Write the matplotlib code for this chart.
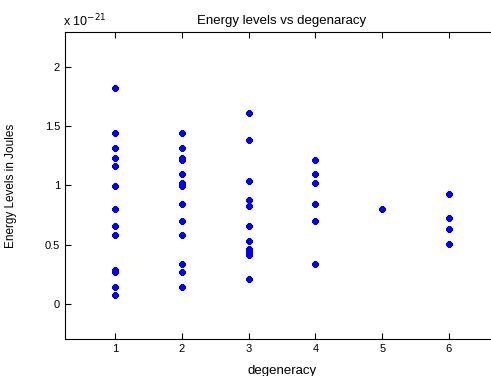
import numpy as np
import matplotlib.pyplot as plt

plt.rcParams['font.family'] = ['Liberation Sans', 'DejaVu Sans']

# energy levels (units of 1e-21 J) for each degeneracy
deg1 = [1.828, 1.441, 1.316, 1.237, 1.167, 0.994, 0.802, 0.655, 0.585, 0.288, 0.265, 0.142, 0.070]
deg2 = [1.441, 1.316, 1.235, 1.212, 1.096, 1.023, 0.997, 0.847, 0.700, 0.585, 0.336, 0.265, 0.142]
deg3 = [1.610, 1.384, 1.042, 0.875, 0.825, 0.655, 0.531, 0.458, 0.435, 0.413, 0.212]
deg4 = [1.215, 1.099, 1.020, 0.847, 0.700, 0.336]
deg5 = [0.802]
deg6 = [0.926, 0.723, 0.630, 0.506]
levels = [deg1, deg2, deg3, deg4, deg5, deg6]

fig = plt.figure(figsize=(4.91, 3.76), dpi=100)
ax = fig.add_axes([0.1324, 0.0984, 0.884, 0.8165])

for d, e in enumerate(levels, start=1):
    ax.plot(np.full(len(e), d), e, linestyle='none', marker=(6, 2, 0),
            color='blue', markersize=4.5, markeredgewidth=2)

ax.set_xlim(0.25, 6.75)
ax.set_ylim(-0.3, 2.3)
ax.set_xticks([1, 2, 3, 4, 5, 6])
ax.set_yticks([0, 0.5, 1, 1.5, 2])
ax.set_yticklabels(['0', '0.5', '1', '1.5', '2'])
ax.tick_params(direction='in', top=True, right=True, labelsize=8, length=4, width=0.8)
for s in ax.spines.values():
    s.set_linewidth(0.8)

ax.set_title('Energy levels vs degenaracy', fontsize=9.5, pad=6)
ax.set_xlabel('degeneracy', fontsize=9.5, labelpad=8)
ax.set_ylabel('Energy Levels in Joules', fontsize=8.5, labelpad=20)
fig.text(0.128, 0.931, r'x 10$^{-21}$', fontsize=9, ha='left', va='baseline')

fig.savefig('out.png', dpi=100)
